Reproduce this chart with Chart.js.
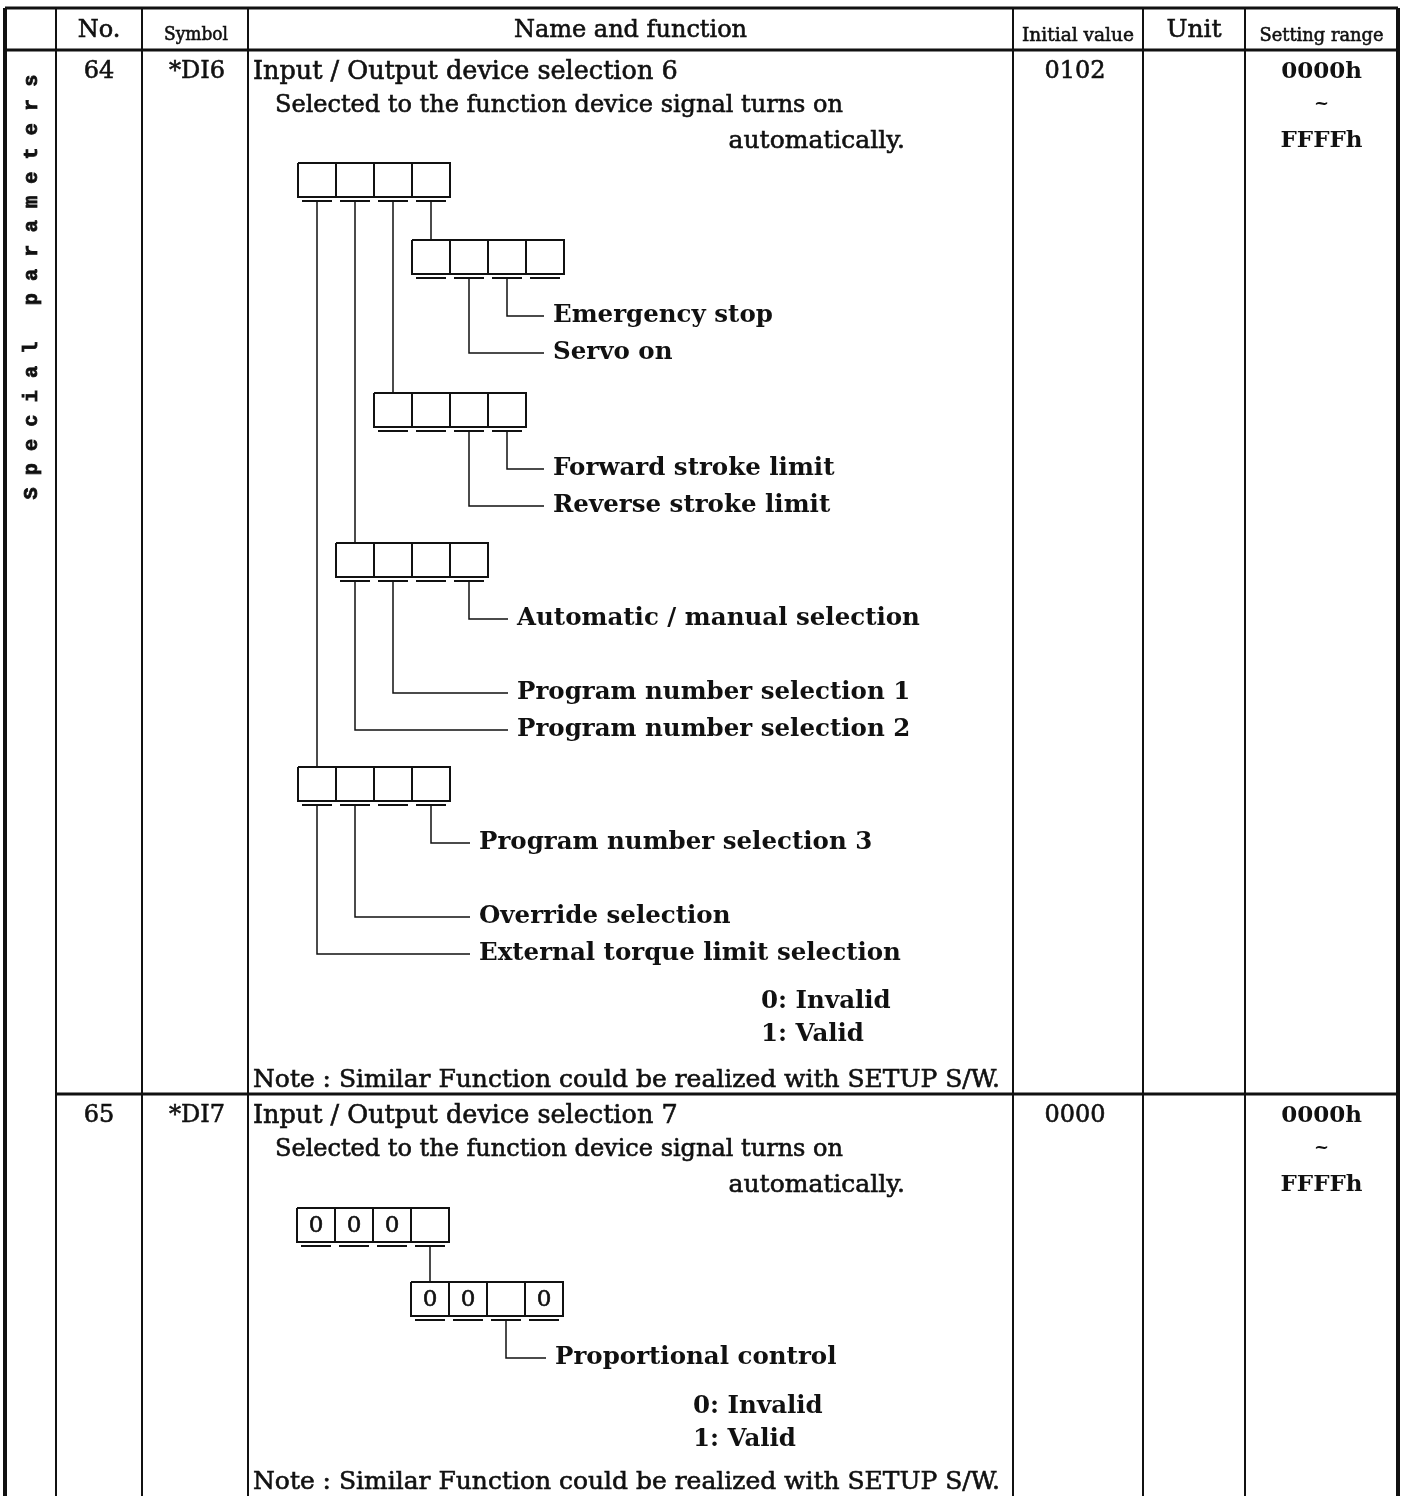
<!DOCTYPE html>
<html>
<head>
<meta charset="utf-8">
<title>Special parameters 64 / 65</title>
<script src="https://cdn.jsdelivr.net/npm/chart.js@4.4.0/dist/chart.umd.min.js"></script>
<style>
  html, body { margin: 0; padding: 0; background: #fff; }
  #wrap { width: 1404px; height: 1496px; }
</style>
</head>
<body>
<div id="wrap"><canvas id="tabla" width="1404" height="1496"></canvas></div>
<script>
// Encabezados de la tabla
const columnHeaders = ['', 'No.', 'Symbol', 'Name and function', 'Initial value', 'Unit', 'Setting range'];
const groupLabel = 'Special parameters';

// Parámetros, una entrada por fila
const paramNumbers = ['64', '65'];
const paramSymbols = ['*DI6', '*DI7'];
const paramNames = ['Input / Output device selection 6', 'Input / Output device selection 7'];
const paramDescriptions = ['Selected to the function device signal turns on', 'Selected to the function device signal turns on'];
const paramDescriptionEnd = ['automatically.', 'automatically.'];
const initialValues = ['0102', '0000'];
const units = ['', ''];
const rangeFrom = ['0000h', '0000h'];
const rangeSep = ['~', '~'];
const rangeTo = ['FFFFh', 'FFFFh'];
const validityLabels = ['0: Invalid', '1: Valid'];
const noteText = 'Note : Similar Function could be realized with SETUP S/W.';

// Diagramas de bits (índice 0 = casilla de la izquierda)
const di6TopDigits = ['', '', '', ''];
const di6Digit3Bits = ['', 'Servo on', 'Emergency stop', ''];
const di6Digit2Bits = ['', '', 'Reverse stroke limit', 'Forward stroke limit'];
const di6Digit1Bits = ['Program number selection 2', 'Program number selection 1', '', 'Automatic / manual selection'];
const di6Digit0Bits = ['External torque limit selection', 'Override selection', '', 'Program number selection 3'];

const di7TopDigits = ['0', '0', '0', ''];
const di7Digit3Values = ['0', '0', '', '0'];
const di7Digit3Bits = ['', '', 'Proportional control', ''];

// ---- Disposición (posiciones en unidades de las escalas) ----
const colX = [5, 56, 142, 248, 1013, 1143, 1245, 1398];
const tableTop = 8;
const headerBottom = 50;
const tableBottom = 1496;
const rowTop = [50, 1094];
const rowBottom = [1094, 1496];
const CELL_W = 38, CELL_H = 34, STEP = 37;

const diagrams = [
  { x: 298, y: 163, digits: di6TopDigits, validX: 761, validY: 1002,
    subs: [
      { digit: 3, top: 240, bits: di6Digit3Bits, values: null, textX: 553 },
      { digit: 2, top: 393, bits: di6Digit2Bits, values: null, textX: 553 },
      { digit: 1, top: 543, bits: di6Digit1Bits, values: null, textX: 517 },
      { digit: 0, top: 767, bits: di6Digit0Bits, values: null, textX: 479 }
    ] },
  { x: 297, y: 1208, digits: di7TopDigits, validX: 693, validY: 1407,
    subs: [
      { digit: 3, top: 1282, bits: di7Digit3Bits, values: di7Digit3Values, textX: 555 }
    ] }
];

const FONT = '"DejaVu Serif", "Liberation Serif", serif';
const INK = '#111';
const LABEL_FONT = 'bold 24.5px ' + FONT;

// Segmentos de línea -> datasets de Chart.js
const datasets = [];
function seg(pts, w) {
  datasets.push({
    data: pts.map(p => ({ x: p[0], y: p[1] })),
    showLine: true,
    borderColor: INK,
    borderWidth: w,
    pointRadius: 0,
    fill: false,
    tension: 0
  });
}

// Rejilla de la tabla
seg([[colX[0], tableTop], [colX[7], tableTop]], 3);
seg([[colX[0], headerBottom], [colX[7], headerBottom]], 3);
seg([[colX[1], rowTop[1]], [colX[7], rowTop[1]]], 3);
colX.forEach((x, i) => {
  const w = (i === 0 || i === colX.length - 1) ? 4 : 2;
  seg([[x, tableTop], [x, tableBottom]], w);
});

// Textos que se dibujan con el plugin
const texts = [];
function txt(s, x, y, font, align, maxW) {
  texts.push({ s, x, y, font, align: align || 'left', maxW });
}

function drawBox(x0, y0, values) {
  seg([[x0, y0], [x0 + 4 * CELL_W, y0], [x0 + 4 * CELL_W, y0 + CELL_H], [x0, y0 + CELL_H], [x0, y0]], 2);
  for (let i = 1; i < 4; i++) {
    seg([[x0 + i * CELL_W, y0], [x0 + i * CELL_W, y0 + CELL_H]], 2);
  }
  for (let i = 0; i < 4; i++) {
    seg([[x0 + i * CELL_W + 4, y0 + CELL_H + 4], [x0 + (i + 1) * CELL_W - 4, y0 + CELL_H + 4]], 2);
    if (values && values[i]) {
      txt(values[i], x0 + i * CELL_W + CELL_W / 2, y0 + CELL_H / 2 + 1, '23px ' + FONT, 'center');
    }
  }
}

diagrams.forEach(d => {
  drawBox(d.x, d.y, d.digits);
  const under = d.y + CELL_H + 4;
  d.subs.forEach(s => {
    const cx = d.x + s.digit * CELL_W + CELL_W / 2;
    seg([[cx, under], [cx, s.top]], 1.5);
    const sx = d.x + s.digit * CELL_W;
    drawBox(sx, s.top, s.values);
    const subUnder = s.top + CELL_H + 4;
    let maxIdx = -1;
    s.bits.forEach((b, i) => { if (b) maxIdx = i; });
    s.bits.forEach((b, i) => {
      if (!b) return;
      const ly = subUnder + 38 + (maxIdx - i) * STEP;
      const bx = sx + i * CELL_W + CELL_W / 2;
      seg([[bx, subUnder], [bx, ly], [s.textX - 9, ly]], 1.5);
      txt(b, s.textX, ly, LABEL_FONT);
    });
  });
  txt(validityLabels[0], d.validX, d.validY, LABEL_FONT);
  txt(validityLabels[1], d.validX, d.validY + 33, LABEL_FONT);
});

// Encabezados
const mid = i => (colX[i] + colX[i + 1]) / 2;
txt(columnHeaders[1], mid(1), 31, '24px ' + FONT, 'center');
txt(columnHeaders[2], mid(2) + 1, 35, '19px ' + FONT, 'center', 64);
txt(columnHeaders[3], mid(3), 31, '24px ' + FONT, 'center');
txt(columnHeaders[4], mid(4), 36, '19px ' + FONT, 'center', 112);
txt(columnHeaders[5], mid(5), 30, '25px ' + FONT, 'center');
txt(columnHeaders[6], mid(6), 36, '19px ' + FONT, 'center', 124);

// Filas
paramNumbers.forEach((n, r) => {
  const t = rowTop[r];
  txt(n, mid(1), t + 22, '24px ' + FONT, 'center');
  txt(paramSymbols[r], mid(2) + 2, t + 22, '24px ' + FONT, 'center');
  txt(paramNames[r], 253, t + 22, '25.5px ' + FONT, 'left', 428);
  txt(paramDescriptions[r], 275, t + 56, '24px ' + FONT, 'left', 570);
  txt(paramDescriptionEnd[r], 905, t + 91, '25px ' + FONT, 'right');
  txt(initialValues[r], mid(4) - 3, t + 22, '24px ' + FONT, 'center');
  txt(units[r], mid(5), t + 22, '24px ' + FONT, 'center');
  txt(rangeFrom[r], mid(6), t + 22, 'bold 23px ' + FONT, 'center');
  txt(rangeSep[r], mid(6), t + 54, 'bold 18px ' + FONT, 'center');
  txt(rangeTo[r], mid(6), t + 91, 'bold 23px ' + FONT, 'center');
  txt(noteText, 253, rowBottom[r] - 14, '25px ' + FONT, 'left', 747);
});

const fondoBlanco = {
  id: 'fondoBlanco',
  beforeDraw(chart) {
    const c = chart.ctx;
    c.save();
    c.fillStyle = '#fff';
    c.fillRect(0, 0, chart.width, chart.height);
    c.restore();
  }
};

const textos = {
  id: 'textos',
  afterDatasetsDraw(chart) {
    const c = chart.ctx;
    const sx = chart.scales.x, sy = chart.scales.y;
    c.save();
    c.fillStyle = INK;
    c.strokeStyle = INK;
    c.lineWidth = 0.6;
    c.textBaseline = 'middle';
    texts.forEach(t => {
      if (!t.s) return;
      c.font = t.font;
      c.textAlign = t.align;
      const px = sx.getPixelForValue(t.x), py = sy.getPixelForValue(t.y);
      const regular = t.font.indexOf('bold') < 0;
      if (t.maxW) {
        c.fillText(t.s, px, py, t.maxW);
        if (regular) c.strokeText(t.s, px, py, t.maxW);
      } else {
        c.fillText(t.s, px, py);
        if (regular) c.strokeText(t.s, px, py);
      }
    });
    // Etiqueta vertical del grupo
    const gx = sx.getPixelForValue(mid(0)), gy = sy.getPixelForValue(287);
    c.translate(gx, gy);
    c.rotate(-Math.PI / 2);
    c.font = 'bold 21px "Liberation Mono", "DejaVu Sans Mono", monospace';
    c.textAlign = 'center';
    c.lineWidth = 0.8;
    const etiqueta = groupLabel.split('').join(' ');
    c.fillText(etiqueta, 0, 1, 425);
    c.strokeText(etiqueta, 0, 1, 425);
    c.restore();
  }
};

const ctx = document.getElementById('tabla').getContext('2d');
new Chart(ctx, {
  type: 'scatter',
  data: { datasets },
  options: {
    responsive: false,
    animation: false,
    layout: { padding: 0 },
    plugins: { legend: { display: false }, tooltip: { enabled: false } },
    scales: {
      x: { type: 'linear', min: 0, max: 1404, display: false },
      y: { type: 'linear', min: 0, max: 1496, reverse: true, display: false }
    }
  },
  plugins: [fondoBlanco, textos]
});
</script>
</body>
</html>
